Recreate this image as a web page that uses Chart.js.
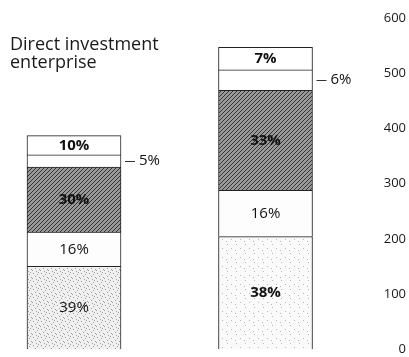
<!DOCTYPE html>
<html>
<head>
<meta charset="utf-8">
<script src="https://cdn.jsdelivr.net/npm/chart.js@4.4.1/dist/chart.umd.min.js"></script>
<style>
  html, body { margin: 0; padding: 0; background: #fff; }
</style>
</head>
<body>
<canvas id="chart" width="409" height="357"></canvas>
<script>
// categories (bars) and title
const bars = ["Direct investment enterprise", "Total"];
const titleLines = ["Direct investment", "enterprise"];

// stacked segments, bottom to top
const seg1 = [150, 204];
const seg2 = [62, 84];
const seg3 = [118, 181];
const seg4 = [22, 37];
const seg5 = [35, 41];

const seg1Labels = ["39%", "38%"];
const seg2Labels = ["16%", "16%"];
const seg3Labels = ["30%", "33%"];
const seg4Labels = ["5%", "6%"];
const seg5Labels = ["10%", "7%"];

const yTicks = [0, 100, 200, 300, 400, 500, 600];

function makePattern(bg, dots, size, dotColor) {
  const c = document.createElement("canvas");
  c.width = size; c.height = size;
  const g = c.getContext("2d");
  g.fillStyle = bg;
  g.fillRect(0, 0, size, size);
  g.fillStyle = dotColor;
  dots.forEach(d => g.fillRect(d[0], d[1], 1, 1));
  return g.createPattern(c, "repeat");
}

function makeHatch() {
  const c = document.createElement("canvas");
  c.width = 4; c.height = 4;
  const g = c.getContext("2d");
  g.fillStyle = "#9a9a9a";
  g.fillRect(0, 0, 4, 4);
  g.fillStyle = "#333";
  for (let i = 0; i < 4; i++) g.fillRect(3 - i, i, 1, 1);
  return g.createPattern(c, "repeat");
}

const ctx0 = document.getElementById("chart").getContext("2d");
const stippleDense = makePattern("#f0f0f0", [[1,1],[5,2],[3,4],[7,5],[0,6],[4,7],[6,0]], 8, "#a0a0a0");
const stippleLight = makePattern("#fafafa", [[2,1],[6,5],[1,7]], 9, "#b8b8b8");
const hatch = makeHatch();

const segLabels = {
  id: "segLabels",
  afterDatasetsDraw(chart) {
    const ctx = chart.ctx;
    ctx.save();
    ctx.fillStyle = "#111";
    ctx.strokeStyle = "#333";
    ctx.lineWidth = 1;
    chart.data.datasets.forEach((ds, di) => {
      const meta = chart.getDatasetMeta(di);
      meta.data.forEach((bar, i) => {
        const cy = (bar.y + bar.base) / 2;
        ctx.font = (ds.bold[i] ? "700 " : "400 ") + "15px 'Open Sans'";
        ctx.textBaseline = "middle";
        if (ds.outside) {
          const right = bar.x + bar.width / 2;
          ctx.beginPath();
          ctx.moveTo(right + 4, Math.round(cy) + 0.5);
          ctx.lineTo(right + 14, Math.round(cy) + 0.5);
          ctx.stroke();
          ctx.textAlign = "left";
          ctx.fillText(ds.pct[i], right + 18, cy);
        } else {
          ctx.textAlign = "center";
          ctx.fillText(ds.pct[i], bar.x, cy);
        }
      });
    });
    ctx.restore();
  }
};

const titleText = {
  id: "titleText",
  afterDraw(chart) {
    const ctx = chart.ctx;
    ctx.save();
    ctx.fillStyle = "#1a1a1a";
    ctx.font = "400 18px 'Open Sans'";
    ctx.textAlign = "left";
    ctx.textBaseline = "alphabetic";
    titleLines.forEach((t, i) => ctx.fillText(t, 10, 50 + i * 18));
    ctx.restore();
  }
};

const common = { borderColor: "#222", borderWidth: 1, barThickness: 94, clip: false };

new Chart(ctx0, {
  type: "bar",
  data: {
    labels: bars,
    datasets: [
      { ...common, label: "Segment 1", data: seg1, pct: seg1Labels, bold: [false, true], backgroundColor: [stippleDense, stippleLight] },
      { ...common, label: "Segment 2", data: seg2, pct: seg2Labels, bold: [false, false], backgroundColor: "#fdfdfd" },
      { ...common, label: "Segment 3", data: seg3, pct: seg3Labels, bold: [true, true], backgroundColor: hatch },
      { ...common, label: "Segment 4", data: seg4, pct: seg4Labels, bold: [false, false], backgroundColor: "#ffffff", outside: true },
      { ...common, label: "Segment 5", data: seg5, pct: seg5Labels, bold: [true, true], backgroundColor: "#ffffff" }
    ]
  },
  options: {
    responsive: false,
    animation: false,
    layout: { padding: { left: 74, right: 3, top: 18, bottom: 6.6 } },
    plugins: { legend: { display: false }, tooltip: { enabled: false } },
    scales: {
      x: {
        stacked: true,
        display: false,
        offset: false
      },
      y: {
        stacked: true,
        position: "right",
        min: yTicks[0],
        max: yTicks[yTicks.length - 1],
        afterFit: s => { s.width = 140.5; },
        afterBuildTicks: s => { s.ticks = yTicks.map(v => ({ value: v })); },
        grid: { display: false, drawTicks: false },
        border: { display: false },
        ticks: {
          crossAlign: "far",
          padding: 0,
          color: "#1a1a1a",
          font: { family: "'Open Sans'", size: 13 }
        }
      }
    }
  },
  plugins: [segLabels, titleText]
});
</script>
</body>
</html>
